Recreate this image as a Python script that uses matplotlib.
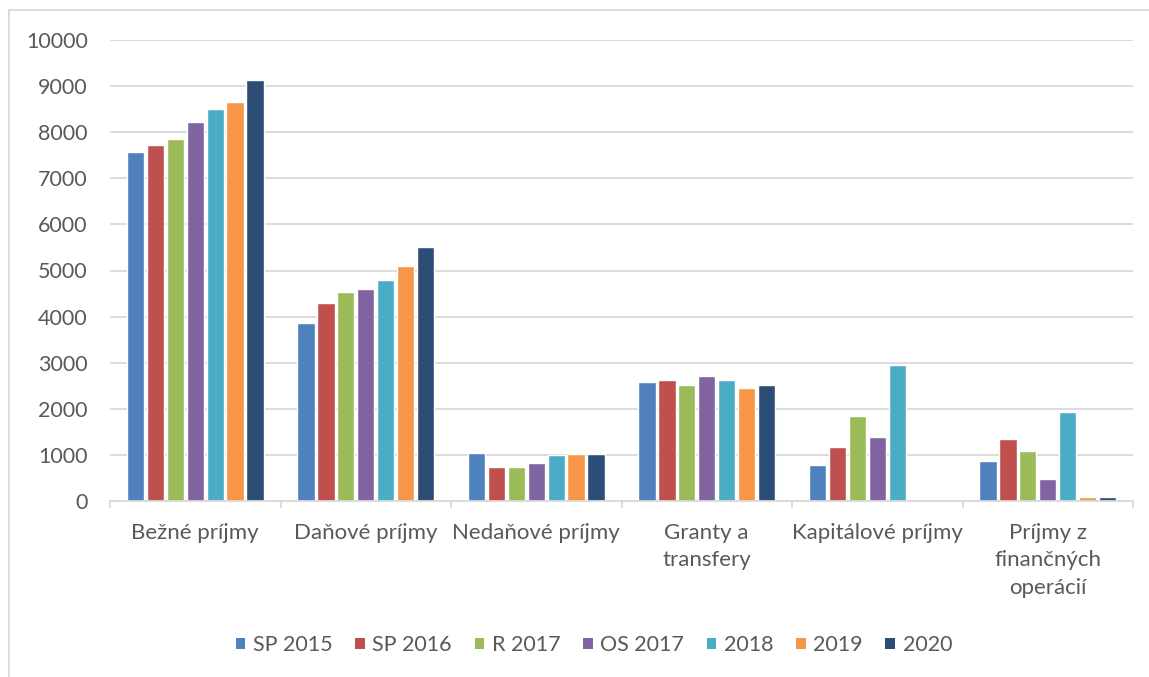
import numpy as np
import matplotlib
matplotlib.use('Agg')
import matplotlib.pyplot as plt
from matplotlib.patches import Patch, Rectangle

## data
categories = ['Bežné príjmy', 'Daňové príjmy', 'Nedaňové príjmy',
              'Granty a\ntransfery', 'Kapitálové príjmy',
              'Príjmy z\nfinančných\noperácií']
series = ['SP 2015', 'SP 2016', 'R 2017', 'OS 2017', '2018', '2019', '2020']

sp2015 = [7580, 3870, 1045, 2575, 785, 875]
sp2016 = [7725, 4295, 735, 2615, 1165, 1345]
r2017 = [7855, 4525, 730, 2515, 1845, 1085]
os2017 = [8215, 4605, 815, 2715, 1380, 480]
y2018 = [8505, 4800, 995, 2635, 2955, 1940]
y2019 = [8650, 5105, 1010, 2455, 0, 95]
y2020 = [9130, 5505, 1015, 2525, 0, 95]
values = [sp2015, sp2016, r2017, os2017, y2018, y2019, y2020]

colors = ['#4F81BD', '#C0504D', '#9BBB59', '#8064A2', '#4BACC6', '#F79646', '#2C4D75']
yticks = list(range(0, 10001, 1000))

txt = '#595959'
grid = '#D9D9D9'
plt.rcParams['font.family'] = ['Lato', 'DejaVu Sans']
fs = 15.5

fig = plt.figure(figsize=(11.49, 6.77), dpi=100)
ax = fig.add_axes([110/1149, 1-501/677, (1133-110)/1149, (501-40)/677])

x = np.arange(len(categories))
pitch = 0.117
for i, (vals, c) in enumerate(zip(values, colors)):
    ax.bar(x + (i-3)*pitch, vals, width=0.102, color=c,
           edgecolor='white', linewidth=1.0, label=series[i])

ax.set_xlim(-0.5, len(categories)-0.5)
ax.set_ylim(0, 10000)
ax.set_yticks(yticks)
ax.set_yticklabels([str(t) for t in yticks])
ax.yaxis.grid(True, color=grid, linewidth=1.3)
ax.set_axisbelow(True)

ax.set_xticks(x)
ax.set_xticklabels(categories, linespacing=1.45)
ax.set_xticks(np.arange(-0.5, len(categories)), minor=True)
ax.tick_params(axis='x', which='major', length=0, pad=16, labelsize=16, labelcolor=txt)
ax.tick_params(axis='x', which='minor', length=4.8, width=1.3, color=grid)
ax.tick_params(axis='y', length=0, pad=16, labelsize=fs, labelcolor=txt)

for s in ['top', 'right', 'left']:
    ax.spines[s].set_visible(False)
ax.spines['bottom'].set_color(grid)
ax.spines['bottom'].set_linewidth(1.3)

handles = [Patch(facecolor=c, edgecolor='none') for c in colors]
fig.legend(handles, series, loc='center', bbox_to_anchor=(594/1149, 1-645/677),
           ncol=7, frameon=False, fontsize=fs, labelcolor=txt,
           handlelength=0.45, handleheight=0.45, handletextpad=0.35,
           columnspacing=1.05)

# outer chart border
fig.patches.append(Rectangle((9/1149, -0.1), 1.2, 1-10/677+0.1, transform=fig.transFigure,
                             fill=False, edgecolor=grid, linewidth=1.3))

plt.savefig('out.png', dpi=100)
